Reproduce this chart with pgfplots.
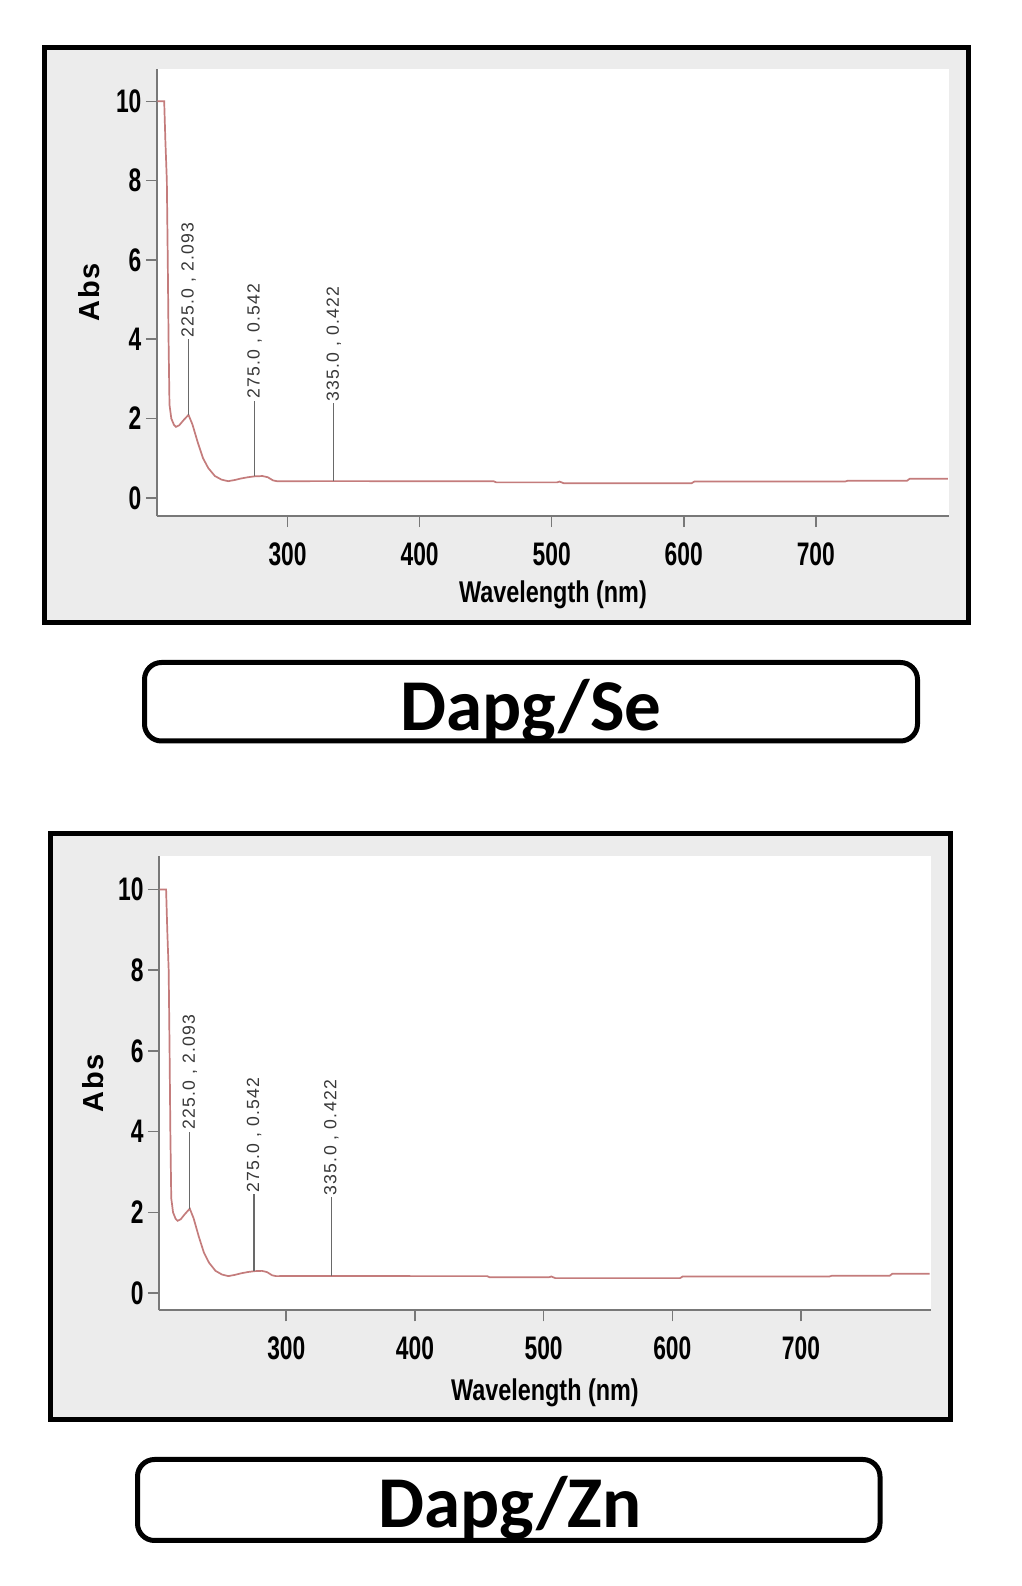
\documentclass[border=0pt]{standalone}
\usepackage{fontspec}
\setmainfont{Liberation Sans}
\newfontfamily\narrowfont[FakeStretch=0.7]{Liberation Sans}
\newfontfamily\labfont[FakeStretch=0.78]{Liberation Sans}
\newfontfamily\absfont[LetterSpace=6]{Liberation Sans}
\newfontfamily\annfont[LetterSpace=7]{Liberation Sans}
\newfontfamily\boxfont{Carlito}
\usepackage{pgfplots}
\usepackage{pgfplotstable}
\pgfplotsset{compat=1.18}

\definecolor{bggray}{RGB}{236,236,236}
\definecolor{axgray}{RGB}{120,120,120}
\definecolor{specred}{RGB}{196,124,124}
\definecolor{anngray}{RGB}{105,105,105}

% UV-Vis spectrum
\pgfplotstableread{
wl abs
201.5 10.0
206.6 10.0
207.5 9.0
208.6 8.0
209.3 6.0
209.9 4.0
210.6 2.35
212.0 2.0
214.0 1.84
215.5 1.79
218.0 1.83
221.0 1.95
225.0 2.093
228.0 1.85
232.0 1.40
236.0 1.00
240.0 0.75
245.0 0.55
250.0 0.46
255.0 0.42
260.0 0.45
265.0 0.49
270.0 0.52
275.0 0.542
281.0 0.55
285.0 0.52
289.0 0.44
292.0 0.42
335.0 0.422
400.0 0.42
456.0 0.42
458.0 0.39
504.0 0.39
506.0 0.41
509.0 0.37
606.0 0.37
608.0 0.41
722.0 0.41
724.0 0.43
769.0 0.43
771.0 0.48
800.0 0.48
}\spectrum

\pgfplotsset{
  uvvis/.style={
    scale only axis,
    anchor=south west,
    axis lines*=left,
    axis line style={axgray, line width=1pt},
    axis background/.style={fill=white},
    xmin=201, xmax=801,
    ytick={0,2,4,6,8,10},
    xtick={300,400,500,600,700},
    tick align=outside,
    major tick length=5.5pt,
    tick style={axgray, line width=0.8pt},
    /pgf/number format/assume math mode=true,
    ticklabel style={font=\narrowfont\bfseries\fontsize{16.3}{18}\selectfont, text=black, inner sep=0pt},
    xticklabel style={yshift=-7.7pt},
    yticklabel style={xshift=-2pt},
    xlabel={Wavelength (nm)},
    ylabel={Abs},
    xlabel style={font=\labfont\bfseries\fontsize{15}{17}\selectfont, anchor=center, inner sep=0pt},
    ylabel style={font=\absfont\bfseries\fontsize{14.5}{16}\selectfont, anchor=center, inner sep=0pt},
  },
}
\tikzset{
  annot/.style={anngray, line width=0.7pt},
  anntext/.style={anchor=west, rotate=90, inner sep=0.6pt, text=black!78,
    font=\annfont\fontsize{8.8}{10}\selectfont},
}

\newcommand{\peaks}{%
  \draw[annot] (axis cs:225,2.093) -- (axis cs:225,4.0) node[anntext] {225.0 , 2.093};
  \draw[annot] (axis cs:275,0.542) -- (axis cs:275,2.45) node[anntext] {275.0 , 0.542};
  \draw[annot] (axis cs:335,0.422) -- (axis cs:335,2.38) node[anntext] {335.0 , 0.422};
}

\begin{document}
\begin{tikzpicture}[x=0.5pt,y=0.5pt]
\path[use as bounding box] (0,0) rectangle (1022,1586);

% panel frames
\draw[line width=2.5pt, fill=bggray] (44,963) rectangle (968.5,1538.5);
\draw[line width=2.5pt, fill=bggray] (50.5,166) rectangle (950,752.5);

% Dapg/Se
\begin{axis}[uvvis,
  at={(78.4pt,534.95pt)}, width=396.2pt, height=223.65pt,
  ymin=-0.46, ymax=10.82,
  xlabel style={at={(axis description cs:0.5,-0.1766)}},
  ylabel style={at={(axis description cs:-0.0856,0.5)}},
]
\addplot[specred, line width=0.85pt] table[x=wl, y=abs] {\spectrum};
\peaks
\end{axis}

% Dapg/Zn
\begin{axis}[uvvis,
  at={(79.45pt,137.8pt)}, width=386.05pt, height=227.15pt,
  ymin=-0.43, ymax=10.83,
  xlabel style={at={(axis description cs:0.5,-0.1805)}},
  ylabel style={at={(axis description cs:-0.0855,0.5)}},
]
\addplot[specred, line width=0.85pt] table[x=wl, y=abs] {\spectrum};
\peaks
\end{axis}

% caption boxes
\draw[line width=2.5pt, rounded corners=8.5pt, fill=white] (144.5,845) rectangle (917.5,923.5);
\node[anchor=base, inner sep=0pt, font=\boxfont\bfseries\fontsize{36.5}{40}\selectfont] at (531,855.4) {Dapg/Se};
\draw[line width=2.5pt, rounded corners=8.5pt, fill=white] (137.5,45.5) rectangle (880,126.5);
\node[anchor=base, inner sep=0pt, font=\boxfont\bfseries\fontsize{36.5}{40}\selectfont] at (510,58) {Dapg/Zn};
\end{tikzpicture}
\end{document}
